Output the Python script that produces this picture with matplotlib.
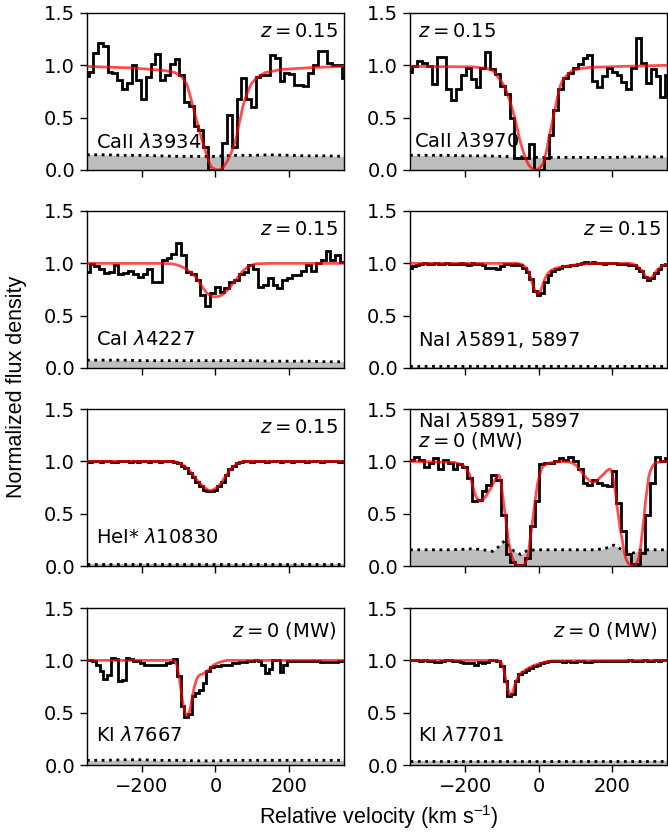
import numpy as np
import matplotlib
matplotlib.use("Agg")
import matplotlib.pyplot as plt

plt.rcParams['font.family'] = ['DejaVu Sans']
plt.rcParams['mathtext.fontset'] = 'dejavusans'

# ---------------- data ----------------
err_v = [-350, -300, -250, -200, -150, -100, -50, 0, 50, 100, 150, 200, 250, 300, 350]

# Panel 1: CaII 3934 (z=0.15)
ca3934_v0, ca3934_dv = -358.5, 13.0
ca3934_flux = [0.90, 0.94, 1.12, 1.21, 1.18, 0.94, 0.93, 0.86, 0.77, 0.83,
               1.00, 0.86, 0.68, 0.89, 1.01, 1.11, 0.86, 0.91, 1.01, 1.06,
               0.91, 0.65, 0.61, 0.42, 0.38, 0.22, 0.00, 0.00, 0.00, 0.26,
               0.53, 0.22, 0.68, 0.88, 0.68, 0.60, 0.89, 0.91, 0.91, 1.10,
               1.07, 0.85, 0.93, 0.92, 0.81, 0.81, 0.80, 0.93, 1.00, 1.14,
               1.14, 1.02, 1.00, 1.00, 0.88]
ca3934_model_v = [-353, -228, -137, -110, -92, -78, -66, -55, -46, -37, -28, -20, -12, -1, 6,
                  13, 20, 26, 33, 40, 46, 52, 58, 63, 69, 74, 80, 85, 92, 99, 112, 135, 180, 271, 350]
ca3934_model = [0.99, 0.975, 0.95, 0.93, 0.89, 0.82, 0.67, 0.52, 0.41, 0.29, 0.19, 0.10, 0.03, 0.005, 0.0,
                0.005, 0.02, 0.05, 0.09, 0.14, 0.19, 0.25, 0.33, 0.42, 0.51, 0.60, 0.67, 0.72, 0.78, 0.83,
                0.88, 0.93, 0.96, 0.98, 0.99]
ca3934_err = [0.145, 0.145, 0.14, 0.14, 0.135, 0.13, 0.13, 0.13, 0.14, 0.14, 0.145, 0.14, 0.135, 0.135, 0.13]

# Panel 2: CaII 3970 (z=0.15)
ca3970_v0, ca3970_dv = -357.0, 13.25
ca3970_flux = [0.94, 0.99, 1.04, 1.02, 0.99, 0.82, 1.08, 1.08, 0.77, 0.67,
               0.77, 0.91, 0.97, 0.87, 0.79, 0.97, 1.13, 0.96, 0.92, 0.80,
               0.73, 0.50, 0.11, 0.11, 0.11, 0.25, 0.00, 0.00, 0.11, 0.33,
               0.57, 0.77, 0.88, 0.93, 0.97, 1.01, 1.07, 1.10, 0.85, 0.79,
               0.90, 0.97, 0.94, 0.91, 0.84, 0.77, 0.97, 1.26, 1.02, 0.83,
               0.96, 0.90, 0.70, 0.91]
ca3970_model_v = [-351, -179, -142, -124, -115, -104, -93, -86, -79, -72, -65, -58, -52, -43, -34,
                  -27, -20, -14, -8, -2, 3, 8, 14, 18, 23, 28, 34, 40, 46, 52, 59, 65, 71, 82, 93,
                  116, 139, 229, 351]
ca3970_model = [0.99, 0.985, 0.97, 0.95, 0.91, 0.86, 0.80, 0.74, 0.67, 0.59, 0.50, 0.40, 0.30, 0.19, 0.10,
                0.05, 0.02, 0.005, 0.0, 0.005, 0.02, 0.04, 0.07, 0.13, 0.20, 0.30, 0.40, 0.50, 0.60, 0.70,
                0.80, 0.85, 0.88, 0.92, 0.95, 0.97, 0.98, 0.99, 1.0]
ca3970_err = [0.14, 0.14, 0.14, 0.135, 0.135, 0.13, 0.125, 0.12, 0.12, 0.12, 0.12, 0.12, 0.125, 0.125, 0.125]

# Panel 3: CaI 4227 (z=0.15)
cai_v0, cai_dv = -356.1, 13.12
cai_flux = [0.92, 0.99, 0.97, 0.95, 0.91, 0.92, 0.98, 0.90, 0.91, 0.93,
            0.90, 0.87, 0.90, 0.95, 0.82, 0.82, 1.03, 1.05, 1.09, 1.19,
            1.08, 0.92, 0.90, 0.84, 0.70, 0.59, 0.72, 0.77, 0.73, 0.76,
            0.82, 0.84, 0.90, 0.92, 0.98, 0.95, 0.77, 0.79, 0.86, 0.79,
            0.76, 0.84, 0.86, 0.89, 0.89, 0.93, 0.98, 0.93, 1.00, 1.03,
            1.12, 1.03, 1.08, 1.01]
cai_model_v = [-350, -150, -117, -100, -81, -67, -53, -42, -31, -22, -13, -5, 1, 10, 19, 28, 37, 46,
               55, 64, 73, 82, 91, 100, 110, 150, 350]
cai_model = [1.0, 1.0, 0.995, 0.98, 0.95, 0.91, 0.87, 0.81, 0.75, 0.71, 0.69, 0.68, 0.68, 0.685, 0.70,
             0.73, 0.76, 0.80, 0.84, 0.88, 0.92, 0.95, 0.97, 0.985, 0.995, 1.0, 1.0]
cai_err = [0.075, 0.075, 0.075, 0.07, 0.07, 0.07, 0.07, 0.07, 0.07, 0.07, 0.065, 0.065, 0.065, 0.06, 0.06]

# Panel 4: NaI 5891,5897 (z=0.15), 10 km/s bins
nai15_v0, nai15_dv = -355.0, 10.0
nai15_flux = [0.96, 0.97, 0.98, 0.99, 1.00, 0.99, 0.99, 1.00, 0.99, 0.99,
              1.00, 0.99, 0.99, 0.99, 1.00, 0.99, 0.98, 1.00, 0.99, 0.99,
              0.98, 0.96, 0.96, 0.96, 0.95, 0.97, 0.99, 0.99, 0.98, 0.99,
              0.98, 0.96, 0.92, 0.85, 0.74, 0.70, 0.72, 0.82, 0.89, 0.93,
              0.95, 0.96, 0.97, 0.97, 0.98, 0.98, 0.99, 1.00, 1.01, 1.00,
              1.01, 1.00, 1.00, 0.99, 1.00, 1.00, 1.00, 0.99, 0.99, 0.99,
              0.98, 0.98, 0.96, 0.93, 0.87, 0.84, 0.86, 0.91, 0.95, 0.98,
              0.99]
nai15_model_v = [-350, -60, -45, -38, -32, -26, -20, -15, -10, -5, 0, 5, 10, 15, 20, 25, 30, 38, 45, 55,
                 70, 90, 110, 150, 250, 260, 270, 276, 282, 287, 292, 296, 300, 305, 310, 316, 322, 328,
                 335, 342, 350]
nai15_model = [1.0, 1.0, 0.99, 0.97, 0.95, 0.91, 0.85, 0.79, 0.74, 0.715, 0.71, 0.73, 0.78, 0.83, 0.87,
               0.90, 0.92, 0.94, 0.95, 0.96, 0.97, 0.98, 0.99, 1.0, 1.0, 0.99, 0.97, 0.95, 0.93, 0.90,
               0.87, 0.855, 0.85, 0.855, 0.87, 0.90, 0.93, 0.95, 0.97, 0.985, 0.99]
nai15_err = [0.015, 0.015, 0.016, 0.015, 0.015, 0.014, 0.015, 0.015, 0.015, 0.016, 0.015, 0.015, 0.015, 0.015, 0.015]

# Panel 5: HeI* 10830 (z=0.15), 10 km/s bins
he_v0, he_dv = -355.0, 10.0
he_flux = [1.00, 0.995, 1.00, 1.00, 0.99, 1.00, 1.00, 0.995, 0.99, 1.00,
           1.00, 1.00, 0.995, 1.00, 0.99, 1.00, 1.00, 0.995, 1.00, 1.00,
           0.99, 1.00, 1.00, 1.00,
           0.99, 0.98, 0.96, 0.94, 0.89, 0.85, 0.80, 0.76, 0.73, 0.72,
           0.72, 0.73, 0.76, 0.80, 0.87, 0.93, 0.96, 0.98, 0.99,
           1.00, 1.00, 0.995, 1.00, 1.00, 1.00, 0.99, 1.00, 1.00, 1.00,
           0.995, 1.00, 1.00, 0.99, 1.00, 1.00, 1.00, 0.995, 1.00, 1.00,
           1.00, 0.99, 1.00, 1.00, 1.00, 1.00, 0.995, 1.00]
he_model_v = [-350, -120, -110, -100, -90, -80, -70, -60, -50, -40, -30, -22, -15, -8, 0, 8, 15, 22,
              30, 38, 45, 52, 60, 70, 80, 350]
he_model = [1.0, 1.0, 0.995, 0.985, 0.97, 0.945, 0.91, 0.865, 0.82, 0.78, 0.75, 0.73, 0.72, 0.725,
            0.74, 0.765, 0.79, 0.83, 0.87, 0.91, 0.94, 0.96, 0.98, 0.993, 1.0, 1.0]
he_err = [0.015, 0.015, 0.015, 0.015, 0.015, 0.015, 0.015, 0.015, 0.015, 0.015, 0.015, 0.015, 0.015, 0.015, 0.015]

# Panel 6: NaI 5891,5897 (z=0, MW)
namw_v0, namw_dv = -352.0, 13.12
namw_flux = [1.01, 1.04, 1.01, 0.95, 0.98, 1.03, 0.93, 1.01, 0.98, 0.93,
             0.97, 0.95, 0.84, 0.62, 0.63, 0.72, 0.77, 0.87, 0.82, 0.49,
             0.11, 0.04, 0.01, 0.01, 0.08, 0.38, 0.62, 0.97, 0.98, 0.98,
             1.00, 1.03, 1.01, 1.04, 1.00, 0.93, 0.79, 0.77, 0.82, 0.79,
             0.77, 0.76, 0.91, 0.60, 0.33, 0.11, 0.02, 0.02, 0.12, 0.49,
             0.79, 1.04, 1.00, 1.03]
namw_model_v = [-351, -229, -210, -202, -195, -188, -183, -179, -174, -170, -164, -158, -151, -143,
                -136, -129, -122, -116, -110, -106, -102, -98, -93, -88, -84, -80, -75, -69, -62, -55,
                -48, -39, -32, -27, -23, -18, -12, -7, -3, 3, 8, 15, 24, 40, 61, 88, 97, 106, 115, 124,
                131, 138, 147, 154, 160, 169, 178, 186, 192, 197, 201, 205, 210, 214, 219, 223, 228,
                232, 237, 242, 246, 255, 264, 269, 273, 278, 282, 287, 291, 296, 300, 305, 310, 317,
                323, 346, 351]
namw_model = [1.0, 0.99, 0.97, 0.95, 0.92, 0.88, 0.82, 0.76, 0.70, 0.66, 0.63, 0.62, 0.635, 0.67,
              0.71, 0.75, 0.80, 0.84, 0.87, 0.86, 0.80, 0.68, 0.55, 0.42, 0.30, 0.20, 0.12, 0.06, 0.02,
              0.005, 0.0, 0.01, 0.06, 0.14, 0.25, 0.38, 0.55, 0.68, 0.78, 0.87, 0.93, 0.96, 0.98, 0.99,
              1.0, 0.99, 0.975, 0.95, 0.91, 0.87, 0.84, 0.82, 0.80, 0.805, 0.82, 0.85, 0.88, 0.91,
              0.925, 0.92, 0.88, 0.80, 0.70, 0.57, 0.45, 0.34, 0.25, 0.16, 0.08, 0.04, 0.02, 0.0, 0.01,
              0.04, 0.08, 0.18, 0.30, 0.45, 0.60, 0.74, 0.85, 0.91, 0.95, 0.98, 0.99, 1.0, 1.0]
namw_err_v = [-350, -300, -250, -200, -180, -150, -125, -110, -93, -80, -66, -48, -30, 0, 50, 100,
              150, 180, 205, 225, 240, 255, 275, 300, 350]
namw_err = [0.155, 0.155, 0.155, 0.16, 0.165, 0.155, 0.14, 0.18, 0.24, 0.19, 0.14, 0.11, 0.15, 0.155,
            0.155, 0.155, 0.155, 0.165, 0.20, 0.16, 0.14, 0.12, 0.15, 0.155, 0.155]

# Panel 7: KI 7667 (z=0, MW), 10 km/s bins
ki7667_v0, ki7667_dv = -355.0, 10.0
ki7667_flux = [1.00, 1.00, 0.99, 0.96, 0.90, 0.82, 0.86, 1.02, 1.01, 0.80,
               0.81, 1.02, 1.01, 0.99, 0.99, 0.97, 0.96, 0.96, 0.96, 0.96,
               0.96, 0.96, 0.97, 0.98, 1.01, 0.85, 0.56, 0.46, 0.49, 0.66,
               0.69, 0.72, 0.78, 0.90, 0.94, 0.95, 0.95, 0.96, 0.96, 0.96,
               0.97, 0.97, 0.98, 0.98, 0.99, 0.99, 1.00, 0.99, 0.96, 0.88,
               0.92, 1.00, 1.00, 0.89, 0.96, 0.99, 0.99, 0.99, 0.99, 0.99,
               0.99, 0.99, 0.99, 0.99, 0.98, 0.98, 0.98, 0.98, 0.98, 0.99,
               0.99]
ki7667_model_v = [-350, -115, -110, -106, -102, -98, -94, -90, -86, -82, -78, -74, -70, -66, -62, -58,
                  -54, -50, -45, -40, -35, -30, -25, -20, -15, -10, -5, 0, 10, 20, 30, 350]
ki7667_model = [1.0, 1.0, 0.99, 0.96, 0.90, 0.82, 0.72, 0.62, 0.54, 0.49, 0.47, 0.48, 0.52, 0.59, 0.67,
                0.74, 0.79, 0.83, 0.855, 0.865, 0.87, 0.88, 0.89, 0.905, 0.92, 0.94, 0.955, 0.965, 0.98,
                0.99, 1.0, 1.0]
ki7667_err = [0.045, 0.045, 0.05, 0.05, 0.045, 0.045, 0.04, 0.04, 0.045, 0.045, 0.045, 0.045, 0.045, 0.045, 0.045]

# Panel 8: KI 7701 (z=0, MW), 10 km/s bins
ki7701_v0, ki7701_dv = -355.0, 10.0
ki7701_flux = [1.00, 1.00, 1.00, 0.995, 1.00, 0.99, 0.995, 0.985, 0.98, 0.99,
               1.00, 1.00, 0.995, 0.99, 0.985, 0.975, 0.97, 0.975, 0.96, 0.98,
               0.97, 0.985, 1.00, 1.00, 0.99, 0.95, 0.80, 0.66, 0.68, 0.80,
               0.87, 0.89, 0.91, 0.93, 0.95, 0.96, 0.97, 0.98, 0.99, 0.995,
               0.99, 0.99, 0.985, 0.99, 0.98, 0.985, 0.99, 0.99, 0.985, 0.985,
               0.99, 0.995, 0.99, 0.99, 0.995, 0.99, 0.995, 0.99, 0.99, 0.995,
               1.00, 0.995, 0.99, 0.995, 1.00, 0.995, 0.995, 1.00, 0.995, 1.00,
               1.00]
ki7701_model_v = [-350, -112, -106, -100, -96, -92, -88, -84, -80, -76, -72, -68, -64, -60, -55, -50,
                  -45, -40, -35, -28, -20, -10, 0, 10, 20, 35, 350]
ki7701_model = [1.0, 1.0, 0.99, 0.97, 0.93, 0.87, 0.80, 0.73, 0.685, 0.67, 0.68, 0.72, 0.77, 0.81,
                0.845, 0.87, 0.885, 0.895, 0.91, 0.925, 0.94, 0.955, 0.965, 0.975, 0.985, 0.995, 1.0]
ki7701_err = [0.04, 0.04, 0.04, 0.04, 0.04, 0.04, 0.04, 0.04, 0.04, 0.04, 0.04, 0.04, 0.04, 0.04, 0.04]

labels = ["CaII $\\lambda$3934", "CaII $\\lambda$3970", "CaI $\\lambda$4227", "NaI $\\lambda$5891, 5897",
          "HeI* $\\lambda$10830", "NaI $\\lambda$5891, 5897", "KI $\\lambda$7667", "KI $\\lambda$7701"]
z_labels = ["$z = 0.15$", "$z = 0.15$", "$z = 0.15$", "$z = 0.15$",
            "$z = 0.15$", "$z = 0$ (MW)", "$z = 0$ (MW)", "$z = 0$ (MW)"]

# ---------------- layout ----------------
panels = [
    dict(v0=ca3934_v0, dv=ca3934_dv, flux=ca3934_flux, mv=ca3934_model_v, m=ca3934_model, ev=err_v, e=ca3934_err,
         lab=(0.035, 0.175, 'left'), zl=(0.975, 0.88, 'right')),
    dict(v0=ca3970_v0, dv=ca3970_dv, flux=ca3970_flux, mv=ca3970_model_v, m=ca3970_model, ev=err_v, e=ca3970_err,
         lab=(0.016, 0.18, 'left'), zl=(0.03, 0.88, 'left')),
    dict(v0=cai_v0, dv=cai_dv, flux=cai_flux, mv=cai_model_v, m=cai_model, ev=err_v, e=cai_err,
         lab=(0.034, 0.18, 'left'), zl=(0.975, 0.885, 'right')),
    dict(v0=nai15_v0, dv=nai15_dv, flux=nai15_flux, mv=nai15_model_v, m=nai15_model, ev=err_v, e=nai15_err,
         lab=(0.03, 0.18, 'left'), zl=(0.975, 0.885, 'right')),
    dict(v0=he_v0, dv=he_dv, flux=he_flux, mv=he_model_v, m=he_model, ev=err_v, e=he_err,
         lab=(0.034, 0.18, 'left'), zl=(0.975, 0.885, 'right')),
    dict(v0=namw_v0, dv=namw_dv, flux=namw_flux, mv=namw_model_v, m=namw_model, ev=namw_err_v, e=namw_err,
         lab=(0.03, 0.925, 'left'), zl=(0.03, 0.80, 'left')),
    dict(v0=ki7667_v0, dv=ki7667_dv, flux=ki7667_flux, mv=ki7667_model_v, m=ki7667_model, ev=err_v, e=ki7667_err,
         lab=(0.034, 0.185, 'left'), zl=(0.972, 0.855, 'right')),
    dict(v0=ki7701_v0, dv=ki7701_dv, flux=ki7701_flux, mv=ki7701_model_v, m=ki7701_model, ev=err_v, e=ki7701_err,
         lab=(0.03, 0.185, 'left'), zl=(0.965, 0.855, 'right')),
]

fig = plt.figure(figsize=(6.68, 8.32), dpi=100)
lefts = [0.1302, 0.6138]
bottoms = [0.7957, 0.5577, 0.3197, 0.0805]
W, H = 0.3847, 0.1887

for i, p in enumerate(panels):
    row, col = divmod(i, 2)
    ax = fig.add_axes([lefts[col], bottoms[row], W, H])
    ax.fill_between(p['ev'], 0, p['e'], color='#bdbdbd', lw=0, zorder=1)
    ax.plot(p['ev'], p['e'], color='black', ls=':', lw=2.0, zorder=2)
    flux = np.array(p['flux'])
    edges = p['v0'] + p['dv'] * np.arange(len(flux) + 1)
    ax.stairs(flux, edges, color='black', lw=2.0, zorder=3, baseline=None)
    ax.plot(p['mv'], p['m'], color='red', alpha=0.7, lw=2.0, zorder=4)
    ax.set_xlim(-350, 350)
    ax.set_ylim(0, 1.5)
    ax.set_yticks([0, 0.5, 1.0, 1.5])
    ax.set_xticks([-200, 0, 200])
    ax.tick_params(labelsize=14, length=5, width=1.0, labelbottom=(row == 3))
    for s in ax.spines.values():
        s.set_linewidth(1.0)
    x, y, ha = p['lab']
    ax.text(x, y, labels[i], transform=ax.transAxes, ha=ha, va='center', fontsize=14, zorder=5)
    x, y, ha = p['zl']
    ax.text(x, y, z_labels[i], transform=ax.transAxes, ha=ha, va='center', fontsize=14, zorder=5)

fig.text(0.025, 0.535, 'Normalized flux density', rotation=90, ha='center', va='center',
         fontsize=15.5, family=['Liberation Sans', 'DejaVu Sans'])
fig.text(0.567, 0.018, 'Relative velocity (km s$^{\\mathregular{-1}}$)', ha='center', va='center',
         fontsize=15.5, family=['Liberation Sans', 'DejaVu Sans'])

fig.savefig('out.png', dpi=100)
